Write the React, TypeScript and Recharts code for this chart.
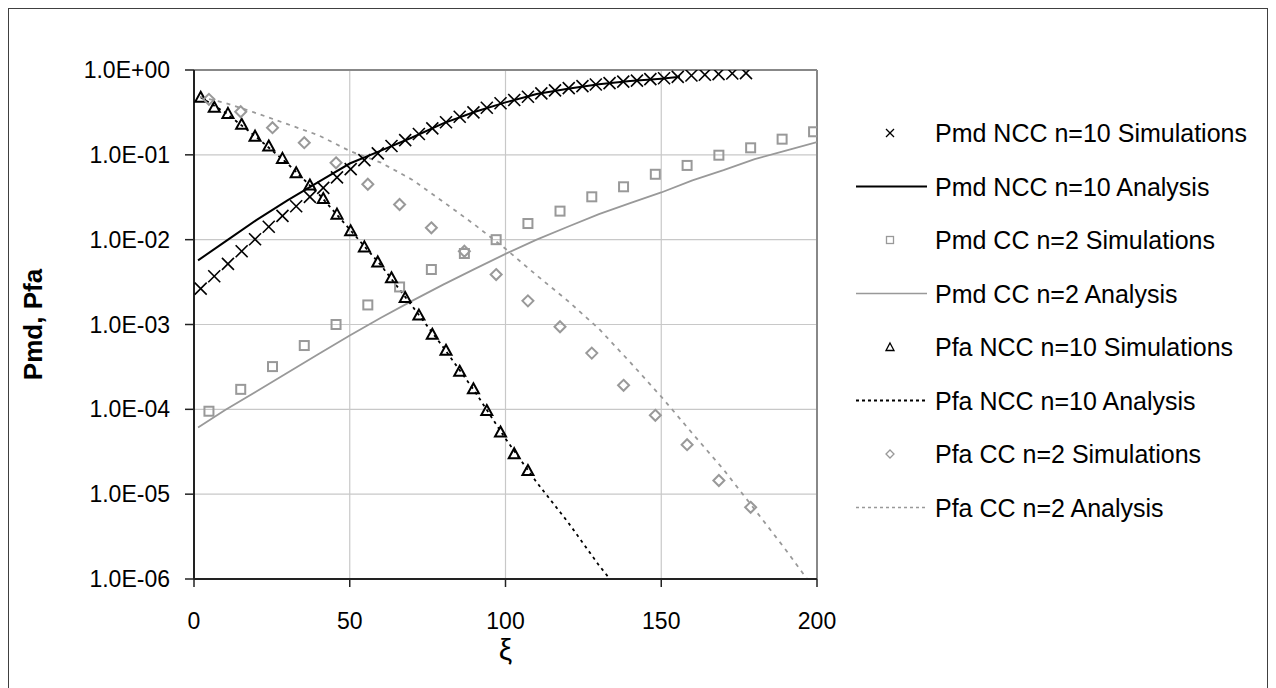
import React from 'react';
import {
  ComposedChart, Line, Scatter, XAxis, YAxis, CartesianGrid, ReferenceLine,
} from 'recharts';

// ---- data ----
const nccSimX = [2.15, 6.5, 10.9, 15.3, 19.6, 24.0, 28.4, 32.8, 37.2, 41.5, 45.9, 50.3, 54.7, 59.0, 63.4, 67.8, 72.2, 76.5, 80.9, 85.3, 89.7, 94.0, 98.4, 102.8, 107.2, 111.5, 115.9, 120.3, 124.7, 129.0, 133.4, 137.8, 142.2, 146.5, 150.9, 155.3, 159.7, 164.0, 168.4, 172.8, 177.2];
const pmdNccSim = [2.65e-3, 3.71e-3, 5.19e-3, 7.31e-3, 1.01e-2, 1.42e-2, 1.91e-2, 2.48e-2, 3.2e-2, 4.08e-2, 5.42e-2, 6.79e-2, 8.67e-2, 0.104, 0.127, 0.149, 0.176, 0.205, 0.242, 0.281, 0.317, 0.359, 0.405, 0.443, 0.484, 0.531, 0.575, 0.612, 0.645, 0.675, 0.7, 0.73, 0.75, 0.78, 0.8, 0.83, 0.86, 0.88, 0.895, 0.91, 0.92];
const pfaNccSim = [0.476, 0.363, 0.308, 0.229, 0.166, 0.127, 0.0908, 0.0615, 0.044, 0.0306, 0.02, 0.0127, 8.22e-3, 5.47e-3, 3.55e-3, 2.08e-3, 1.29e-3, 7.67e-4, 4.97e-4, 2.81e-4, 1.75e-4, 9.7e-5, 5.4e-5, 3.0e-5, 1.9e-5];

const ccSimX = [4.8, 15.0, 25.2, 35.4, 45.6, 55.8, 66.0, 76.2, 86.8, 97.0, 107.2, 117.5, 127.7, 137.9, 148.1, 158.3, 168.5, 178.7, 188.8, 198.9];
const pmdCcSim = [9.5e-5, 1.72e-4, 3.19e-4, 5.65e-4, 1.0e-3, 1.7e-3, 2.77e-3, 4.45e-3, 6.87e-3, 1.0e-2, 1.55e-2, 2.17e-2, 3.2e-2, 4.2e-2, 5.9e-2, 7.5e-2, 9.9e-2, 0.121, 0.153, 0.187];
const pfaCcSim = [0.451, 0.322, 0.209, 0.139, 0.0805, 0.045, 0.026, 0.0138, 7.3e-3, 3.88e-3, 1.9e-3, 9.4e-4, 4.6e-4, 1.92e-4, 8.5e-5, 3.83e-5, 1.45e-5, 7.0e-6];

const pmdNccAnX = [1.3, 10, 20, 30, 40, 50, 60, 70, 80, 90, 100, 110, 120, 130, 140, 150, 156];
const pmdNccAn = [5.7e-3, 9.5e-3, 1.7e-2, 2.9e-2, 4.8e-2, 7.9e-2, 0.112, 0.16, 0.235, 0.32, 0.415, 0.52, 0.6, 0.68, 0.74, 0.79, 0.83];

const pmdCcAnX = [1.3, 10, 20, 30, 40, 50, 60, 70, 80, 90, 100, 110, 120, 130, 140, 150, 160, 170, 180, 190, 200];
const pmdCcAn = [6.1e-5, 9.8e-5, 1.62e-4, 2.7e-4, 4.5e-4, 7.4e-4, 1.2e-3, 1.9e-3, 2.95e-3, 4.5e-3, 6.8e-3, 1.0e-2, 1.42e-2, 2.0e-2, 2.7e-2, 3.6e-2, 5.0e-2, 6.6e-2, 8.9e-2, 0.112, 0.141];

const pfaNccAnX = [2, 10, 20, 30, 40, 50, 60, 70, 80, 90, 100, 110, 120, 130, 134];
const pfaNccAn = [0.48, 0.316, 0.162, 0.079, 0.0347, 0.0132, 5.0e-3, 1.66e-3, 5.4e-4, 1.66e-4, 4.5e-5, 1.38e-5, 4.7e-6, 1.45e-6, 9.5e-7];

const pfaCcAnX = [2, 10, 20, 30, 40, 50, 60, 70, 80, 90, 100, 110, 120, 130, 140, 150, 160, 170, 180, 190, 198];
const pfaCcAn = [0.48, 0.41, 0.31, 0.23, 0.17, 0.111, 0.081, 0.051, 0.028, 0.0151, 7.8e-3, 3.8e-3, 1.9e-3, 8.9e-4, 3.6e-4, 1.41e-4, 5.2e-5, 1.95e-5, 6.6e-6, 2.2e-6, 8.7e-7];

const xTicks = [0, 50, 100, 150, 200];
const yTicks = [1e-6, 1e-5, 1e-4, 1e-3, 1e-2, 1e-1, 1];
const yTickLabels = ['1.0E-06', '1.0E-05', '1.0E-04', '1.0E-03', '1.0E-02', '1.0E-01', '1.0E+00'];
const seriesNames = [
  'Pmd NCC n=10 Simulations',
  'Pmd NCC n=10 Analysis',
  'Pmd CC n=2 Simulations',
  'Pmd CC n=2 Analysis',
  'Pfa NCC n=10 Simulations',
  'Pfa NCC n=10 Analysis',
  'Pfa CC n=2 Simulations',
  'Pfa CC n=2 Analysis',
];
const xLabel = 'ξ';
const yLabel = 'Pmd, Pfa';

const zip = (xs: number[], ys: number[]) => ys.map((y, i) => ({ x: xs[i], y }));

const FONT = '"Liberation Sans", Arial, sans-serif';
const GRAY = '#999999';

const XMark = (p: any) => {
  const { cx, cy } = p;
  const s = 6;
  return (
    <g stroke="#000" strokeWidth={1.6}>
      <line x1={cx - s} y1={cy - s} x2={cx + s} y2={cy + s} />
      <line x1={cx - s} y1={cy + s} x2={cx + s} y2={cy - s} />
    </g>
  );
};
const SquareMark = (p: any) => {
  const { cx, cy } = p;
  return <rect x={cx - 4.5} y={cy - 4.5} width={9} height={9} fill="none" stroke={GRAY} strokeWidth={2} />;
};
const TriMark = (p: any) => {
  const { cx, cy } = p;
  return <polygon points={`${cx},${cy - 5.5} ${cx + 5.5},${cy + 4.5} ${cx - 5.5},${cy + 4.5}`} fill="none" stroke="#000" strokeWidth={2} />;
};
const DiaMark = (p: any) => {
  const { cx, cy } = p;
  return <polygon points={`${cx},${cy - 5.5} ${cx + 5.5},${cy} ${cx},${cy + 5.5} ${cx - 5.5},${cy}`} fill="none" stroke={GRAY} strokeWidth={2} />;
};

const YTick = (p: any) => {
  const { x, y, payload } = p;
  const idx = yTicks.indexOf(payload.value);
  return (
    <text x={x} y={y} textAnchor="end" dominantBaseline="central" fontFamily={FONT} fontSize={23} fill="#000">
      {yTickLabels[idx]}
    </text>
  );
};
const XTick = (p: any) => {
  const { x, y, payload } = p;
  return (
    <text x={x} y={y} textAnchor="middle" dominantBaseline="hanging" fontFamily={FONT} fontSize={23} fill="#000">
      {payload.value}
    </text>
  );
};

const YLabel = (p: any) => {
  const vb = p.viewBox || { x: 0, y: 61, width: 185, height: 508 };
  const cx = 24;
  const cy = vb.y + vb.height / 2;
  return (
    <text x={cx} y={cy} transform={`rotate(-90 ${cx} ${cy})`} textAnchor="middle" dominantBaseline="central"
      fontFamily={FONT} fontSize={26} fontWeight="bold" fill="#000">{yLabel}</text>
  );
};

const legendStyles = [
  { kind: 'x' }, { kind: 'line', color: '#000', dash: undefined },
  { kind: 'sq' }, { kind: 'line', color: GRAY, dash: undefined },
  { kind: 'tri' }, { kind: 'line', color: '#000', dash: '3 3' },
  { kind: 'dia' }, { kind: 'line', color: GRAY, dash: '3 3' },
];

const LegendBox = () => {
  const rowH = 53.5;
  return (
    <svg width={430} height={440} style={{ position: 'absolute', left: 831, top: 104, overflow: 'visible' }}>
      {seriesNames.map((name, i) => {
        const y = 20 + i * rowH;
        const st: any = legendStyles[i];
        const mx = 50;
        let sym: any = null;
        if (st.kind === 'x') sym = (
          <g stroke="#000" strokeWidth={1.2}>
            <line x1={mx - 4} y1={y - 4} x2={mx + 4} y2={y + 4} />
            <line x1={mx - 4} y1={y + 4} x2={mx + 4} y2={y - 4} />
          </g>
        );
        else if (st.kind === 'sq') sym = <rect x={mx - 3.5} y={y - 3.5} width={7} height={7} fill="none" stroke={GRAY} strokeWidth={1.3} />;
        else if (st.kind === 'tri') sym = <polygon points={`${mx},${y - 4} ${mx + 4},${y + 3.5} ${mx - 4},${y + 3.5}`} fill="none" stroke="#000" strokeWidth={1.3} />;
        else if (st.kind === 'dia') sym = <polygon points={`${mx},${y - 4} ${mx + 4},${y} ${mx},${y + 4} ${mx - 4},${y}`} fill="none" stroke={GRAY} strokeWidth={1.3} />;
        else sym = <line x1={16} y1={y} x2={87} y2={y} stroke={st.color} strokeWidth={st.color === '#000' ? 2 : 1.6} strokeDasharray={st.dash} />;
        return (
          <g key={name}>
            {sym}
            <text x={95} y={y} dominantBaseline="central" fontFamily={FONT} fontSize={25} fill="#000">{name}</text>
          </g>
        );
      })}
    </svg>
  );
};

export default function App() {
  return (
    <div style={{ position: 'relative', width: 1260, height: 700, border: '1px solid #404040', boxSizing: 'border-box', background: '#fff' }}>
      <ComposedChart
        width={1258}
        height={688}
        margin={{ top: 61, right: 450, left: 0, bottom: 58 }}
      >
        <CartesianGrid stroke="#c8c8c8" strokeWidth={1.2} />
        <XAxis
          dataKey="x"
          type="number"
          domain={[0, 200]}
          ticks={xTicks}
          allowDataOverflow
          height={60}
          axisLine={{ stroke: '#222', strokeWidth: 2 }}
          tickLine={{ stroke: '#222', strokeWidth: 1.5 }}
          tickSize={8}
          tickMargin={25}
          tick={<XTick />}
          label={{ value: xLabel, position: 'bottom', offset: 0, style: { fontFamily: FONT, fontSize: 30, fill: '#000' } }}
        />
        <YAxis
          dataKey="y"
          type="number"
          scale="log"
          domain={[1e-6, 1]}
          ticks={yTicks}
          allowDataOverflow
          width={185}
          axisLine={{ stroke: '#222', strokeWidth: 2 }}
          tickLine={{ stroke: '#222', strokeWidth: 1.5 }}
          tickSize={9}
          tickMargin={15}
          tick={<YTick />}
          label={<YLabel />}
        />
        <ReferenceLine y={1} stroke="#888" strokeWidth={2} />
        <ReferenceLine x={200} stroke="#888" strokeWidth={2} />
        <Line data={zip(pmdNccAnX, pmdNccAn)} dataKey="y" stroke="#000" strokeWidth={2} dot={false} isAnimationActive={false} />
        <Line data={zip(pmdCcAnX, pmdCcAn)} dataKey="y" stroke={GRAY} strokeWidth={1.8} dot={false} isAnimationActive={false} />
        <Line data={zip(pfaNccAnX, pfaNccAn)} dataKey="y" stroke="#000" strokeWidth={1.8} strokeDasharray="3 4" dot={false} isAnimationActive={false} />
        <Line data={zip(pfaCcAnX, pfaCcAn)} dataKey="y" stroke={GRAY} strokeWidth={1.8} strokeDasharray="4 5" dot={false} isAnimationActive={false} />
        <Scatter data={zip(nccSimX, pmdNccSim)} dataKey="y" shape={<XMark />} isAnimationActive={false} />
        <Scatter data={zip(ccSimX, pmdCcSim)} dataKey="y" shape={<SquareMark />} isAnimationActive={false} />
        <Scatter data={zip(nccSimX.slice(0, pfaNccSim.length), pfaNccSim)} dataKey="y" shape={<TriMark />} isAnimationActive={false} />
        <Scatter data={zip(ccSimX.slice(0, pfaCcSim.length), pfaCcSim)} dataKey="y" shape={<DiaMark />} isAnimationActive={false} />
      </ComposedChart>
      <LegendBox />
    </div>
  );
}
